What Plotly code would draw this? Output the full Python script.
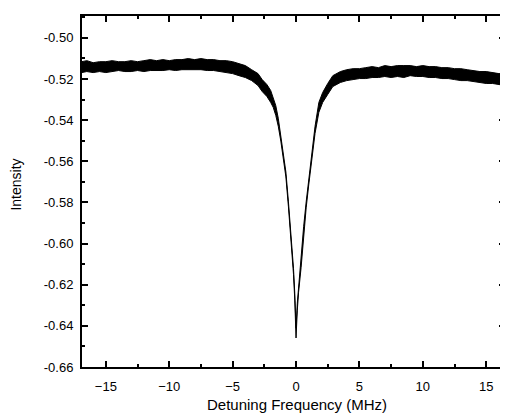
import plotly.graph_objects as go

# Detuning frequency (MHz) sample positions
freq = [-16.9, -16.5, -16.0, -15.5, -15.0, -14.5, -14.0, -13.5, -13.0, -12.5,
        -12.0, -11.5, -11.0, -10.5, -10.0, -9.5, -9.0, -8.5, -8.0, -7.5,
        -7.0, -6.5, -6.0, -5.5, -5.0, -4.5, -4.0, -3.5, -3.0, -2.67,
        -2.3, -2.0, -1.8, -1.6, -1.4, -1.2, -1.0, -0.8, -0.6, -0.4,
        -0.2, -0.1, 0.0, 0.1, 0.2, 0.4, 0.6, 0.8, 1.0, 1.2,
        1.5, 1.8, 2.1, 2.5, 2.9, 3.5, 4.0, 4.5, 5.0, 5.5,
        6.0, 6.5, 7.0, 7.5, 8.0, 8.5, 9.0, 9.5, 10.0, 10.5,
        11.0, 11.5, 12.0, 12.5, 13.0, 13.5, 14.0, 14.5, 15.0, 15.5,
        16.0, 16.5]

# Upper edge of the noisy trace (intensity)
upper = [-0.5116, -0.5111, -0.5121, -0.5116, -0.5116, -0.5111, -0.5116, -0.5116, -0.5111, -0.5116,
         -0.5111, -0.5106, -0.5111, -0.5106, -0.5111, -0.5106, -0.5106, -0.5101, -0.5106, -0.5101,
         -0.5106, -0.5106, -0.5111, -0.5111, -0.5116, -0.5126, -0.5135, -0.5155, -0.5174, -0.5203,
         -0.5227, -0.5256, -0.5290, -0.5329, -0.5391, -0.5473, -0.5556, -0.5652, -0.5797, -0.5947,
         -0.6121, -0.6242, -0.6411, -0.6290, -0.6208, -0.6087, -0.5918, -0.5797, -0.5686, -0.5589,
         -0.5430, -0.5314, -0.5266, -0.5222, -0.5184, -0.5164, -0.5155, -0.5150, -0.5150, -0.5145,
         -0.5140, -0.5145, -0.5135, -0.5140, -0.5135, -0.5135, -0.5135, -0.5140, -0.5135, -0.5140,
         -0.5140, -0.5145, -0.5145, -0.5150, -0.5150, -0.5155, -0.5159, -0.5164, -0.5164, -0.5169,
         -0.5174, -0.5174]

# Lower edge of the noisy trace (intensity)
lower = [-0.5169, -0.5164, -0.5169, -0.5164, -0.5169, -0.5164, -0.5159, -0.5164, -0.5164, -0.5159,
         -0.5164, -0.5159, -0.5159, -0.5159, -0.5155, -0.5159, -0.5155, -0.5155, -0.5155, -0.5155,
         -0.5159, -0.5159, -0.5164, -0.5169, -0.5174, -0.5184, -0.5193, -0.5208, -0.5232, -0.5261,
         -0.5285, -0.5314, -0.5338, -0.5377, -0.5430, -0.5502, -0.5585, -0.5676, -0.5821, -0.5971,
         -0.6150, -0.6275, -0.6459, -0.6324, -0.6237, -0.6116, -0.5947, -0.5826, -0.5715, -0.5618,
         -0.5464, -0.5362, -0.5314, -0.5275, -0.5237, -0.5217, -0.5208, -0.5203, -0.5198, -0.5198,
         -0.5193, -0.5193, -0.5188, -0.5193, -0.5188, -0.5193, -0.5184, -0.5188, -0.5188, -0.5193,
         -0.5193, -0.5198, -0.5198, -0.5203, -0.5208, -0.5208, -0.5213, -0.5217, -0.5222, -0.5222,
         -0.5227, -0.5232]

x_ticks = [-15, -10, -5, 0, 5, 10, 15]
y_ticks = [-0.66, -0.64, -0.62, -0.60, -0.58, -0.56, -0.54, -0.52, -0.50]
y_tick_text = ["-0.66", "-0.64", "-0.62", "-0.60", "-0.58", "-0.56", "-0.54", "-0.52", "-0.50"]

FONT = "Liberation Sans, Arial, sans-serif"

fig = go.Figure()
fig.add_trace(go.Scatter(x=freq, y=upper, mode="lines",
                         line=dict(color="black", width=1), showlegend=False,
                         hoverinfo="skip"))
fig.add_trace(go.Scatter(x=freq, y=lower, mode="lines", fill="tonexty",
                         fillcolor="black",
                         line=dict(color="black", width=1), showlegend=False,
                         hoverinfo="skip"))

axis_common = dict(
    showline=True, linecolor="black", linewidth=2, mirror="ticks",
    ticks="inside", ticklen=6, tickwidth=1.5, tickcolor="black",
    showgrid=False, zeroline=False,
    tickfont=dict(family=FONT, size=13, color="black"),
)

fig.update_xaxes(range=[-16.88, 16.48], tickvals=x_ticks,
                 ticklabelstandoff=6,
                 minor=dict(dtick=2.5, tick0=0, ticks="inside", ticklen=3,
                            tickcolor="black", tickwidth=1.5),
                 **axis_common)
fig.update_yaxes(range=[-0.66, -0.4894], tickvals=y_ticks, ticktext=y_tick_text,
                 ticklabelstandoff=4,
                 minor=dict(dtick=0.01, tick0=0, ticks="inside", ticklen=3,
                            tickcolor="black", tickwidth=1.5),
                 **axis_common)

# The page adds an 8 px body margin, so the figure is sized to fill the rest.
fig.update_layout(
    width=500, height=406,
    margin=dict(l=74, r=1, t=8, b=47),
    paper_bgcolor="white", plot_bgcolor="white",
    font=dict(family=FONT, color="black"),
    annotations=[
        dict(text="Detuning Frequency (MHz)", x=0.508, y=-0.108,
             xref="paper", yref="paper", showarrow=False,
             xanchor="center", yanchor="middle",
             font=dict(family=FONT, size=15, color="black")),
        dict(text="Intensity", x=-0.155, y=0.521, textangle=-90,
             xref="paper", yref="paper", showarrow=False,
             xanchor="center", yanchor="middle",
             font=dict(family=FONT, size=14, color="black")),
    ],
)

fig.write_html("out.html")
